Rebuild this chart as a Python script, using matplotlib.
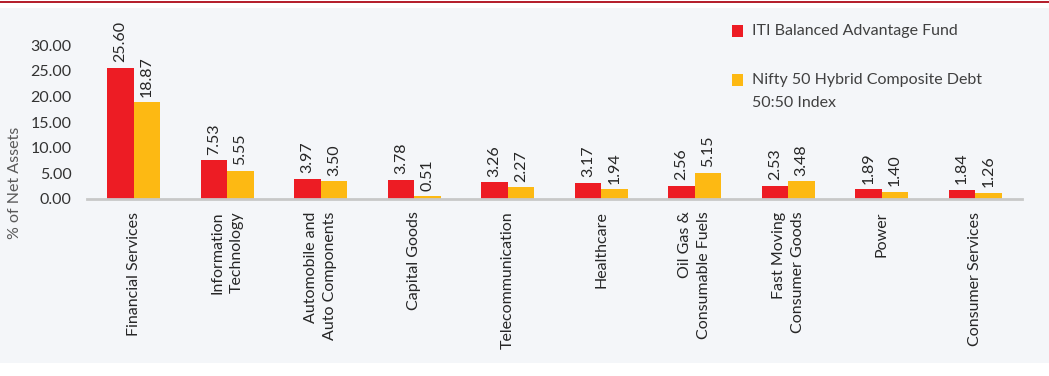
import matplotlib

matplotlib.use("Agg")
import matplotlib.pyplot as plt
import numpy as np
from matplotlib.patches import Rectangle

categories = [
    "Financial Services",
    "Information\nTechnology",
    "Automobile and\nAuto Components",
    "Capital Goods",
    "Telecommunication",
    "Healthcare",
    "Oil Gas &\nConsumable Fuels",
    "Fast Moving\nConsumer Goods",
    "Power",
    "Consumer Services",
]
fund = [25.60, 7.53, 3.97, 3.78, 3.26, 3.17, 2.56, 2.53, 1.89, 1.84]
index = [18.87, 5.55, 3.50, 0.51, 2.27, 1.94, 5.15, 3.48, 1.40, 1.26]
yticks = [0, 5, 10, 15, 20, 25, 30]

fund_label = "ITI Balanced Advantage Fund"
index_label = "Nifty 50 Hybrid Composite Debt\n50:50 Index"

RED = "#ED1C24"
YELLOW = "#FDB913"
BG = "#F4F6F9"
TXT = "#262626"
FS = 11.5

plt.rcParams["font.family"] = ["Lato", "DejaVu Sans"]

W, H = 1049, 376
fig = plt.figure(figsize=(W / 100, H / 100), dpi=100)
fig.patch.set_facecolor("white")

# page background band and top rule
fig.patches.append(Rectangle((0, 1 - 363 / H), 1, (363 - 8) / H, transform=fig.transFigure,
                             facecolor=BG, edgecolor="none", zorder=-2))
fig.patches.append(Rectangle((0, 1 - 3 / H), 1, 2 / H, transform=fig.transFigure,
                             facecolor="#B5212E", edgecolor="none", zorder=-2))

ax = fig.add_axes([87 / W, 1 - 199 / H, (1022 - 87) / W, (199 - 45.4) / H])
ax.set_facecolor("none")
ax.set_zorder(2)

x = np.arange(len(categories))
bw = 0.285
ax.bar(x - bw / 2, fund, bw, color=RED, zorder=2)
ax.bar(x + bw / 2, index, bw, color=YELLOW, zorder=2)

for xi, v in zip(x, fund):
    ax.annotate(f"{v:.2f}", (xi - bw / 2, v), xytext=(0, 4), textcoords="offset points",
                rotation=90, ha="center", va="bottom", fontsize=FS, color=TXT,
                annotation_clip=False)
for xi, v in zip(x, index):
    ax.annotate(f"{v:.2f}", (xi + bw / 2, v), xytext=(0, 4), textcoords="offset points",
                rotation=90, ha="center", va="bottom", fontsize=FS, color=TXT,
                annotation_clip=False)

ax.set_xlim(-0.5, len(categories) - 0.5)
ax.set_ylim(0, 30)
ax.set_yticks(yticks)
ax.set_yticklabels([f"{t:.2f}" for t in yticks], fontsize=FS, color="#333333")
ax.set_xticks(x)
ax.set_xticklabels(categories, rotation=90, ha="center", va="top", fontsize=FS,
                   color=TXT, multialignment="right", linespacing=1.45)
ax.tick_params(axis="both", length=0)
ax.tick_params(axis="x", pad=9)
ax.tick_params(axis="y", pad=11)
for s in ["top", "right", "left"]:
    ax.spines[s].set_visible(False)
ax.spines["bottom"].set_color("#C8C8C8")
ax.spines["bottom"].set_linewidth(2)

fig.text(15 / W, 1 - 183 / H, "% of Net Assets", rotation=90, ha="center", va="center",
         fontsize=FS, color="#595959")

# legend
fig.patches.append(Rectangle((732 / W, 1 - 37 / H), 11 / W, 12 / H, transform=fig.transFigure,
                             facecolor=RED, edgecolor="none"))
fig.patches.append(Rectangle((732 / W, 1 - 86 / H), 11 / W, 12 / H, transform=fig.transFigure,
                             facecolor=YELLOW, edgecolor="none"))
fig.text(752 / W, 1 - 31 / H, fund_label, ha="left", va="center", fontsize=FS, color="#404040")
fig.text(752 / W, 1 - 80 / H, index_label.split("\n")[0], ha="left", va="center",
         fontsize=FS, color="#404040")
fig.text(752 / W, 1 - 103 / H, index_label.split("\n")[1], ha="left", va="center",
         fontsize=FS, color="#404040")

fig.savefig("out.png", dpi=100)
